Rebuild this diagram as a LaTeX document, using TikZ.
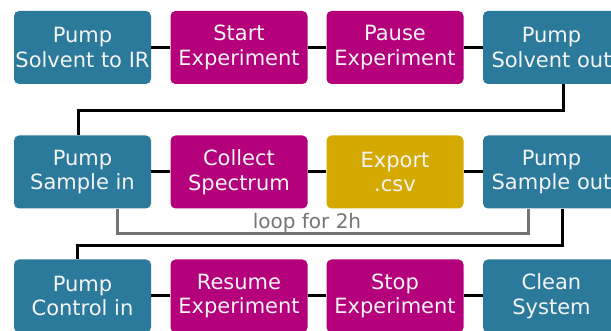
\documentclass[tikz,border=0pt]{standalone}
\usepackage{fontspec}
\setmainfont{DejaVu Sans}
\definecolor{tealbox}{HTML}{2B7A9B}
\definecolor{magbox}{HTML}{B4007A}
\definecolor{goldbox}{HTML}{D4A900}
\definecolor{loopgray}{HTML}{747474}
\definecolor{boxtext}{HTML}{F4F4F4}
\begin{document}
\begin{tikzpicture}[x=1pt,y=1pt,
  box/.style={rounded corners=5pt, minimum width=137pt, minimum height=73pt,
    inner sep=0pt, align=center, text=boxtext, font=\fontsize{21}{24.5}\selectfont},
  bteal/.style={box, fill=tealbox},
  bmag/.style={box, fill=magbox},
  bgold/.style={box, fill=goldbox},
  link/.style={line width=3pt, black},
  looplink/.style={line width=3pt, loopgray}]
\useasboundingbox (0,0) rectangle (611,331);
\clip (0,0) rectangle (611,331);
% row 1
\node[bteal] (a1) at (82.5,283.5) {Pump\\Solvent to IR};
\node[bmag]  (a2) at (239,283.5) {Start\\Experiment};
\node[bmag]  (a3) at (395,283.5) {Pause\\Experiment};
\node[bteal] (a4) at (551.5,283.5) {Pump\\Solvent out};
% row 2
\node[bteal] (b1) at (82.5,159) {Pump\\Sample in};
\node[bmag]  (b2) at (239,159) {Collect\\Spectrum};
\node[bgold] (b3) at (395,159) {Export\\.csv};
\node[bteal] (b4) at (551.5,159) {Pump\\Sample out};
% row 3
\node[bteal] (c1) at (82.5,35) {Pump\\Control in};
\node[bmag]  (c2) at (239,35) {Resume\\Experiment};
\node[bmag]  (c3) at (395,35) {Stop\\Experiment};
\node[bteal] (c4) at (551.5,35) {Clean\\System};
% connectors
\draw[link] (a1) -- (a2);
\draw[link] (a2) -- (a3);
\draw[link] (a3) -- (a4);
\draw[link] (b1) -- (b2);
\draw[link] (b2) -- (b3);
\draw[link] (b3) -- (b4);
\draw[link] (c1) -- (c2);
\draw[link] (c2) -- (c3);
\draw[link] (c3) -- (c4);
\coordinate (t1) at (0,220);
\draw[link] ([xshift=11.5pt]a4.south) -- ([xshift=11.5pt]a4.south |- t1) -- ([xshift=-4.5pt]b1.north |- t1) -- ([xshift=-4.5pt]b1.north);
\coordinate (t2) at (0,97);
\draw[looplink] ([xshift=34.5pt]b1.south) -- ([xshift=34.5pt]b1.south |- t2) -- ([xshift=-23.5pt]b4.south |- t2) -- ([xshift=-23.5pt]b4.south);
\node[anchor=base, text=loopgray, font=\fontsize{20}{24}\selectfont, inner sep=0pt] (lp) at (307,102) {loop for 2h};
\coordinate (t3) at (0,85);
\draw[link] ([xshift=10.5pt]b4.south) -- ([xshift=10.5pt]b4.south |- t3) -- ([xshift=-5.5pt]c1.north |- t3) -- ([xshift=-5.5pt]c1.north);
\end{tikzpicture}
\end{document}
